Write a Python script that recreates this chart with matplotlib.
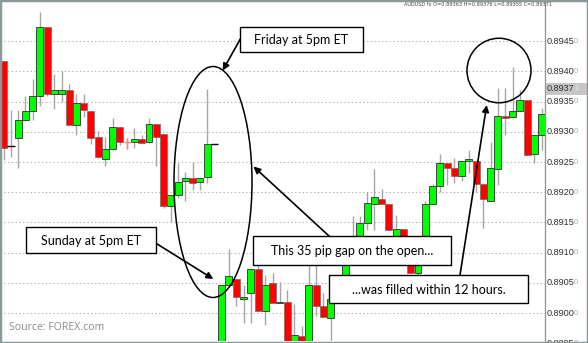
import matplotlib
matplotlib.use("Agg")
import matplotlib.pyplot as plt
from matplotlib.patches import Ellipse, Rectangle
import numpy as np

# hourly AUD/USD candles (price)
opens = [
    0.89417, 0.89276, 0.89290, 0.89319, 0.89334, 0.89360, 0.89474, 0.89362, 0.89362, 0.89370,
    0.89311, 0.89347, 0.89335, 0.89291, 0.89255, 0.89272, 0.89308, 0.89284, 0.89284, 0.89288,
    0.89283, 0.89313, 0.89296, 0.89178, 0.89195, 0.89219, 0.89224, 0.89217, 0.89225, 0.89280,
    0.88930, 0.89046, 0.89056, 0.89023, 0.89033, 0.89073, 0.89003, 0.89050, 0.89017, 0.89018,
    0.88945, 0.88962, 0.88945, 0.89047, 0.89011, 0.88992, 0.89024, 0.89047, 0.89085, 0.89121,
    0.89149, 0.89181, 0.89189, 0.89181, 0.89121, 0.89140, 0.89108, 0.89067, 0.89080, 0.89181,
    0.89210, 0.89248, 0.89240, 0.89227, 0.89252, 0.89252, 0.89214, 0.89185, 0.89239, 0.89327,
    0.89325, 0.89335, 0.89352, 0.89263, 0.89295]
closes = [
    0.89273, 0.89276, 0.89319, 0.89334, 0.89360, 0.89474, 0.89362, 0.89370, 0.89370, 0.89312,
    0.89347, 0.89337, 0.89290, 0.89259, 0.89271, 0.89308, 0.89284, 0.89284, 0.89288, 0.89282,
    0.89313, 0.89292, 0.89178, 0.89195, 0.89217, 0.89224, 0.89216, 0.89224, 0.89280, 0.89280,
    0.89046, 0.89061, 0.89027, 0.89027, 0.89073, 0.89004, 0.89046, 0.89017, 0.89019, 0.88950,
    0.88964, 0.88945, 0.89047, 0.89011, 0.88994, 0.89024, 0.89047, 0.89080, 0.89121, 0.89149,
    0.89182, 0.89193, 0.89181, 0.89138, 0.89140, 0.89108, 0.89067, 0.89080, 0.89181, 0.89210,
    0.89248, 0.89240, 0.89227, 0.89251, 0.89255, 0.89214, 0.89189, 0.89240, 0.89327, 0.89323,
    0.89335, 0.89352, 0.89262, 0.89295, 0.89329]
highs = [
    0.89418, 0.89337, 0.89337, 0.89359, 0.89388, 0.89498, 0.89474, 0.89395, 0.89400, 0.89379,
    0.89363, 0.89363, 0.89335, 0.89301, 0.89292, 0.89323, 0.89308, 0.89290, 0.89307, 0.89295,
    0.89323, 0.89313, 0.89296, 0.89195, 0.89248, 0.89233, 0.89250, 0.89224, 0.89371, 0.89280,
    0.89046, 0.89106, 0.89056, 0.89047, 0.89073, 0.89085, 0.89063, 0.89066, 0.89052, 0.89039,
    0.89015, 0.88979, 0.89083, 0.89085, 0.89034, 0.89024, 0.89050, 0.89083, 0.89160, 0.89160,
    0.89200, 0.89238, 0.89205, 0.89181, 0.89163, 0.89140, 0.89108, 0.89080, 0.89186, 0.89214,
    0.89264, 0.89248, 0.89257, 0.89251, 0.89270, 0.89252, 0.89214, 0.89284, 0.89373, 0.89373,
    0.89408, 0.89370, 0.89352, 0.89295, 0.89339]
lows = [
    0.89254, 0.89259, 0.89241, 0.89318, 0.89319, 0.89343, 0.89360, 0.89338, 0.89350, 0.89312,
    0.89295, 0.89325, 0.89280, 0.89257, 0.89244, 0.89270, 0.89279, 0.89272, 0.89274, 0.89282,
    0.89282, 0.89243, 0.89174, 0.89150, 0.89191, 0.89185, 0.89204, 0.89204, 0.89216, 0.89280,
    0.88925, 0.89046, 0.89011, 0.88984, 0.88984, 0.89004, 0.88981, 0.89017, 0.89017, 0.88945,
    0.88940, 0.88940, 0.88940, 0.88996, 0.88994, 0.88954, 0.89020, 0.89045, 0.89085, 0.89115,
    0.89138, 0.89138, 0.89181, 0.89138, 0.89118, 0.89105, 0.89067, 0.89061, 0.89080, 0.89181,
    0.89201, 0.89212, 0.89215, 0.89218, 0.89232, 0.89201, 0.89141, 0.89185, 0.89212, 0.89295,
    0.89325, 0.89335, 0.89262, 0.89248, 0.89270]

price_levels = [0.8895, 0.8900, 0.8905, 0.8910, 0.8915, 0.8920,
                0.8925, 0.8930, 0.8935, 0.8940, 0.8945]
last_price = 0.89371
header = "AUDUSD fx O=0.89363 H=0.89376 L=0.89355 C=0.89371"
pink_doji = [17]

W, H = 588, 343
fig = plt.figure(figsize=(W / 100, H / 100), dpi=100)
fig.patch.set_facecolor("white")


def fxy(px, py):
    # pixel position -> figure fraction
    return (px / W, 1 - py / H)


ax = fig.add_axes([0, 2 / H, 545 / W, 339 / H])
ax.set_xlim(-0.495, 74.47)
ax.set_ylim(0.889538, 0.89515)
for s in ["top", "left", "bottom"]:
    ax.spines[s].set_visible(False)
ax.spines["right"].set_color("#9a9a9a")
ax.spines["right"].set_linewidth(1)
ax.set_xticks([])
ax.set_yticks([])

for lv in price_levels:
    ax.axhline(lv, color="#b4b4b4", lw=0.8, ls=(0, (1.2, 2.2)), zorder=1)

o = np.array(opens)
c = np.array(closes)
hi = np.array(highs)
lo = np.array(lows)
x = np.arange(len(o))

ax.vlines(x, lo, hi, color="#a6a6a6", lw=1, zorder=2)
up = c > o
dn = c < o
ax.bar(x[up], (c - o)[up], bottom=o[up], width=0.96, color="#00ff00",
       edgecolor="#303030", linewidth=0.6, zorder=3)
ax.bar(x[dn], (c - o)[dn], bottom=o[dn], width=0.96, color="#ff0000",
       edgecolor="#606060", linewidth=0.4, zorder=3)
flat = np.where(c == o)[0]
for i in flat:
    col = "#ff8080" if i in pink_doji else "black"
    ax.hlines(o[i], i - 0.5, i + 0.5, color=col, lw=1, zorder=4)
    if i in pink_doji:
        ax.vlines(i, lo[i], hi[i], color=col, lw=1, zorder=4)

# right hand price scale
ytr = ax.get_yaxis_transform()
for lv in price_levels:
    ax.text(1.003, lv, f"{lv:.4f}", transform=ytr, fontsize=6.6, family="Liberation Sans",
            color="#303030", va="center", ha="left", clip_on=False)
    ax.text(1.0535, lv, "0", transform=ytr, fontsize=5.3, family="Liberation Sans",
            color="#a8a8a8", va="center", ha="left", clip_on=False)
ax.add_patch(Rectangle((1.001, last_price - 0.000095), 0.078, 0.00019, transform=ytr,
                       facecolor="#c6c6c6", edgecolor="none", clip_on=False, zorder=4))
ax.text(1.003, last_price, f"{last_price:.4f}", transform=ytr, fontsize=6.6,
        family="Liberation Sans", color="#303030", va="center", ha="left",
        clip_on=False, zorder=5)
ax.text(1.0535, last_price, f"{last_price:.5f}"[-1], transform=ytr, fontsize=5.3,
        family="Liberation Sans", color="#f0f0f0", va="center", ha="left",
        clip_on=False, zorder=5)

fig.text(*fxy(404, 4.5), header, fontsize=3.6, color="#404040", va="center", ha="left")
fig.text(*fxy(9, 328), "Source: FOREX.com", fontsize=7.6, family="Open Sans",
         color="#8a8a8a", va="center", ha="left")

# annotations
fig.patches.append(Ellipse(fxy(213, 182), 78 / W, 231 / H, transform=fig.transFigure,
                           fill=False, edgecolor="black", lw=1.1, zorder=6))
fig.patches.append(Ellipse(fxy(499, 70.5), 64 / W, 64.5 / H, transform=fig.transFigure,
                           fill=False, edgecolor="black", lw=1.1, zorder=6))

boxes = [
    ("Friday at 5pm ET", 240, 26.7, 363, 51.7),
    ("Sunday at 5pm ET", 25.7, 227.3, 156, 253.3),
    ("This 35 pip gap on the open...", 252.7, 236, 451, 265),
    ("...was filled within 12 hours.", 329.3, 275, 528, 303.3),
]
for txt, x0, y0, x1, y1 in boxes:
    fig.patches.append(Rectangle(fxy(x0, y1), (x1 - x0) / W, (y1 - y0) / H,
                                 transform=fig.transFigure, facecolor="white",
                                 edgecolor="black", lw=1, zorder=8))
    fig.text(*fxy((x0 + x1) / 2, (y0 + y1) / 2 + 0.5), txt, fontsize=9, family="Lato",
             color="black", ha="center", va="center", zorder=9)

arrows = [
    ((240.7, 38.3), (222.7, 70.5)),
    ((156, 243.3), (213.3, 279)),
    ((329, 236), (253.5, 166.5)),
    ((460, 275), (486.7, 105)),
]
for (sx, sy), (ex, ey) in arrows:
    fig.add_artist(plt.Annotation("", xy=fxy(ex, ey), xytext=fxy(sx, sy),
                                  xycoords="figure fraction", textcoords="figure fraction",
                                  arrowprops=dict(arrowstyle="-|>", color="black", lw=1.2,
                                                  mutation_scale=10, shrinkA=0, shrinkB=0),
                                  zorder=7))

fig.patches.append(Rectangle((0, 0), 1, 1, transform=fig.transFigure, fill=False,
                             edgecolor="#8c9999", lw=2.5, zorder=10))

fig.savefig("out.png", dpi=100)
